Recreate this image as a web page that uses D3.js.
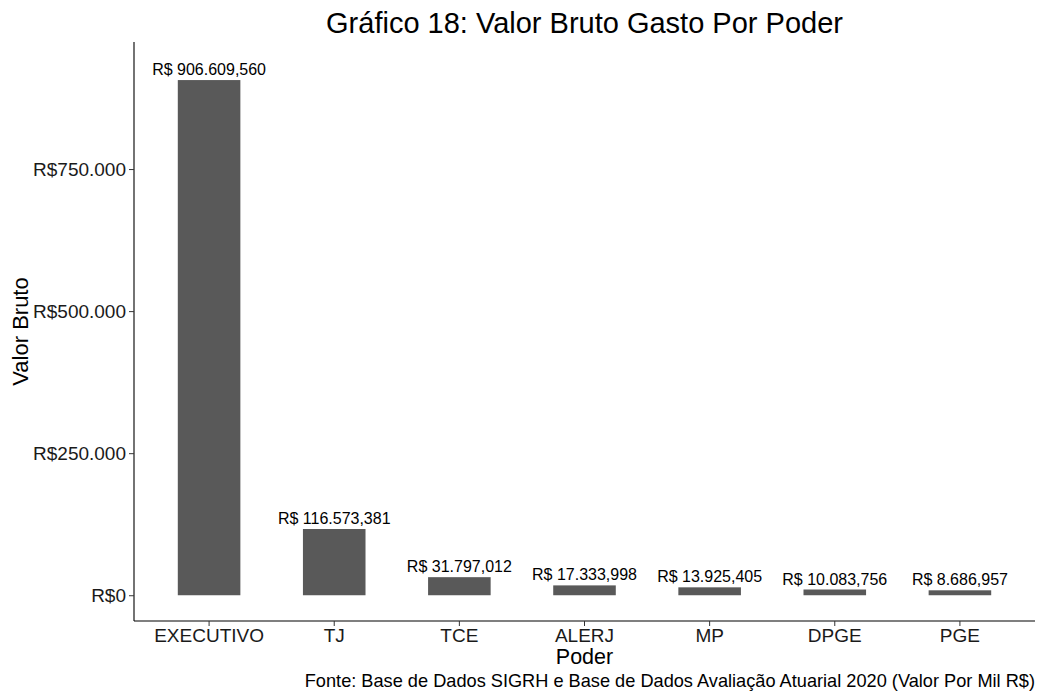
<!DOCTYPE html>
<html>
<head>
<meta charset="utf-8">
<script src="https://cdn.jsdelivr.net/npm/d3@7"></script>
<style>
  body { margin: 0; background: #fff; }
  text { font-family: "Liberation Sans", Arial, sans-serif; }
</style>
</head>
<body>
<div id="main"></div>
<script>

const poderes = ['EXECUTIVO', 'TJ', 'TCE', 'ALERJ', 'MP', 'DPGE', 'PGE'];
const valores = [906609.560, 116573.381, 31797.012, 17333.998, 13925.405, 10083.756, 8686.957];
const yTicks = [0, 250000, 500000, 750000];

const dataset = poderes.map((p, i) => ({ Poder: p, Valor: valores[i] }));

const w = 1041;
const h = 692;
const pLeft = 134, pRight = 1035, pTop = 42, pBottom = 621;

const br = d3.formatLocale({ decimal: ',', thousands: '.', grouping: [3], currency: ['R$', ''] });
const labelFmt = d => 'R$ ' + br.format(',.3f')(d);
const tickFmt = d => 'R$' + br.format(',.0f')(d);

const svg = d3.select('#main').append('svg').attr('width', w).attr('height', h);

// scales
const xScale = d3.scaleBand().domain(poderes).range([pLeft, pRight])
    .paddingInner(0.5).paddingOuter(0.35);

const yScale = d3.scaleLinear().domain([-45330, 973600]).range([pBottom, pTop]);

// bars
svg.selectAll('rect.bar').data(dataset).enter().append('rect')
    .attr('class', 'bar')
    .attr('x', d => xScale(d.Poder))
    .attr('width', xScale.bandwidth())
    .attr('y', d => yScale(d.Valor))
    .attr('height', d => yScale(0) - yScale(d.Valor))
    .attr('fill', '#595959');

// bar labels
svg.selectAll('text.lbl').data(dataset).enter().append('text')
    .attr('class', 'lbl')
    .attr('x', d => xScale(d.Poder) + xScale.bandwidth() / 2)
    .attr('y', d => yScale(d.Valor) - 5)
    .attr('text-anchor', 'middle')
    .style('font-size', '16px')
    .attr('fill', '#000')
    .text(d => labelFmt(d.Valor));

// axes
const yAxis = d3.axisLeft(yScale).tickValues(yTicks).tickFormat(tickFmt).tickSize(5).tickPadding(3);
const xAxis = d3.axisBottom(xScale).tickSize(5).tickPadding(3);

const gy = svg.append('g').attr('transform', `translate(${pLeft},0)`).call(yAxis);
gy.select('.domain').attr('d', `M0,${pTop}V${pBottom}`).attr('stroke', '#000').attr('stroke-width', 1.1);
gy.selectAll('.tick line').attr('stroke', '#333');
gy.selectAll('.tick text').style('font-size', '19px').attr('fill', '#1a1a1a')
    .style('font-family', '"Liberation Sans", Arial, sans-serif');

const gx = svg.append('g').attr('transform', `translate(0,${pBottom})`).call(xAxis);
gx.select('.domain').attr('d', `M${pLeft},0H${pRight}`).attr('stroke', '#000').attr('stroke-width', 1.1);
gx.selectAll('.tick line').attr('stroke', '#333');
gx.selectAll('.tick text').style('font-size', '19px').attr('fill', '#1a1a1a')
    .style('font-family', '"Liberation Sans", Arial, sans-serif');

// title
svg.append('text').attr('x', (pLeft + pRight) / 2).attr('y', 33)
    .attr('text-anchor', 'middle').style('font-size', '29px')
    .text('Gráfico 18: Valor Bruto Gasto Por Poder');

// axis titles
svg.append('text').attr('x', (pLeft + pRight) / 2).attr('y', 664)
    .attr('text-anchor', 'middle').style('font-size', '21.5px')
    .text('Poder');

svg.append('text').attr('transform', `translate(28,${(pTop + pBottom) / 2}) rotate(-90)`)
    .attr('text-anchor', 'middle').style('font-size', '22px')
    .text('Valor Bruto');

// caption
svg.append('text').attr('x', pRight).attr('y', 686.5)
    .attr('text-anchor', 'end').style('font-size', '18.2px')
    .text('Fonte: Base de Dados SIGRH e Base de Dados Avaliação Atuarial 2020 (Valor Por Mil R$)');

</script>
</body>
</html>
